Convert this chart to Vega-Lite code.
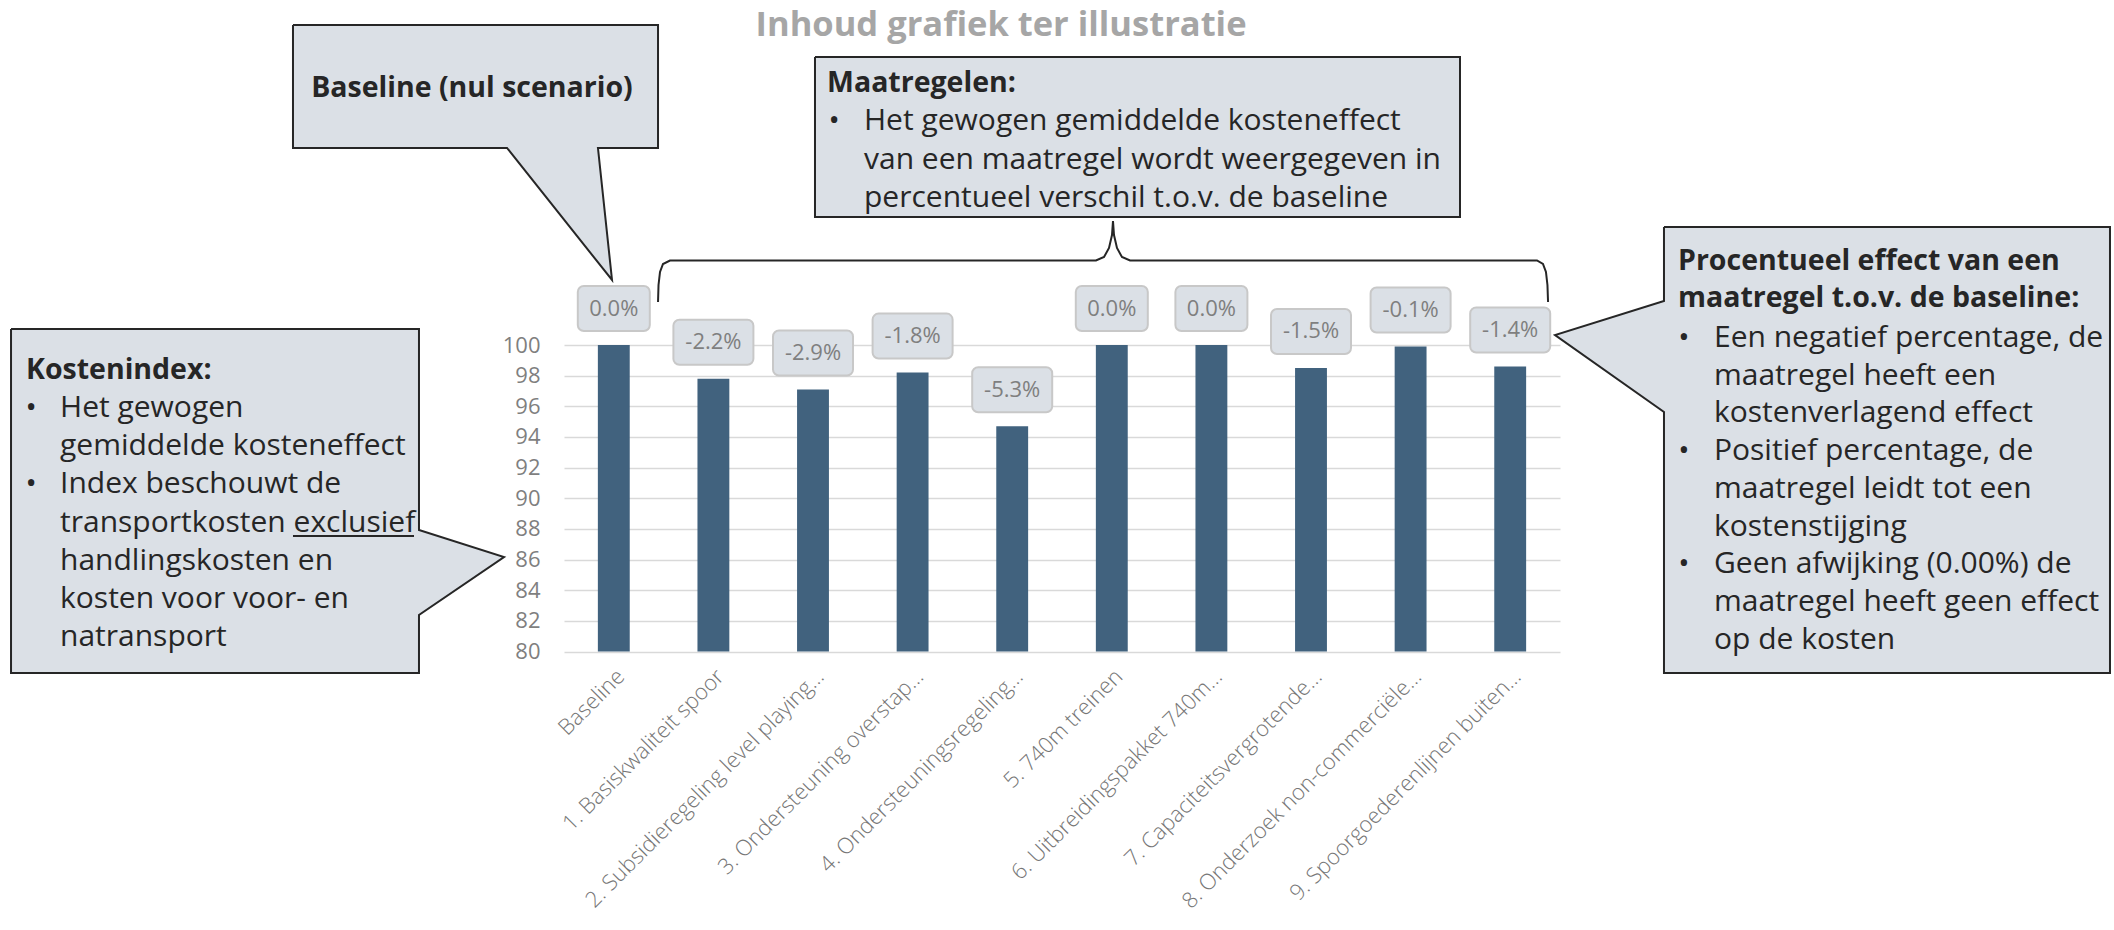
{
  "$schema": "https://vega.github.io/schema/vega-lite/v6.json",
  "width": 996,
  "height": 306.5,
  "autosize": {"type": "none"},
  "padding": {"left": 564, "top": 345, "right": 554, "bottom": 278.5},
  "background": "white",
  "config": {"view": {"stroke": null}, "font": "Open Sans"},
  "datasets": {
    "measures": [
      {"maatregel": "Baseline", "index": 100, "label": "0.0%"},
      {"maatregel": "1. Basiskwaliteit spoor", "index": 97.8, "label": "-2.2%"},
      {"maatregel": "2. Subsidieregeling level playing…", "index": 97.1, "label": "-2.9%"},
      {"maatregel": "3. Ondersteuning overstap…", "index": 98.2, "label": "-1.8%"},
      {"maatregel": "4. Ondersteuningsregeling…", "index": 94.7, "label": "-5.3%"},
      {"maatregel": "5. 740m treinen", "index": 100, "label": "0.0%"},
      {"maatregel": "6. Uitbreidingspakket 740m…", "index": 100, "label": "0.0%"},
      {"maatregel": "7. Capaciteitsvergrotende…", "index": 98.5, "label": "-1.5%"},
      {"maatregel": "8. Onderzoek non-commerciële…", "index": 99.9, "label": "-0.1%"},
      {"maatregel": "9. Spoorgoederenlijnen buiten…", "index": 98.6, "label": "-1.4%"}
    ],
    "shapes": [
      {"shape": "kosten", "i": 0, "u": -5.552, "v": 101.044},
      {"shape": "kosten", "i": 1, "u": -1.456, "v": 101.044},
      {"shape": "kosten", "i": 2, "u": -1.456, "v": 87.928},
      {"shape": "kosten", "i": 3, "u": -0.602, "v": 86.166},
      {"shape": "kosten", "i": 4, "u": -1.456, "v": 82.382},
      {"shape": "kosten", "i": 5, "u": -1.456, "v": 78.597},
      {"shape": "kosten", "i": 6, "u": -5.552, "v": 78.597},
      {"shape": "kosten", "i": 7, "u": -5.552, "v": 101.044},
      {"shape": "baseline", "i": 0, "u": -2.721, "v": 120.881},
      {"shape": "baseline", "i": 1, "u": 0.944, "v": 120.881},
      {"shape": "baseline", "i": 2, "u": 0.944, "v": 112.855},
      {"shape": "baseline", "i": 3, "u": 0.341, "v": 112.855},
      {"shape": "baseline", "i": 4, "u": 0.482, "v": 104.242},
      {"shape": "baseline", "i": 5, "u": -0.572, "v": 112.855},
      {"shape": "baseline", "i": 6, "u": -2.721, "v": 112.855},
      {"shape": "baseline", "i": 7, "u": -2.721, "v": 120.881},
      {"shape": "maatregelen", "i": 0, "u": 2.52, "v": 118.793},
      {"shape": "maatregelen", "i": 1, "u": 8.996, "v": 118.793},
      {"shape": "maatregelen", "i": 2, "u": 8.996, "v": 108.353},
      {"shape": "maatregelen", "i": 3, "u": 2.52, "v": 108.353},
      {"shape": "maatregelen", "i": 4, "u": 2.52, "v": 118.793},
      {"shape": "effect", "i": 0, "u": 11.044, "v": 107.7},
      {"shape": "effect", "i": 1, "u": 15.522, "v": 107.7},
      {"shape": "effect", "i": 2, "u": 15.522, "v": 78.597},
      {"shape": "effect", "i": 3, "u": 11.044, "v": 78.597},
      {"shape": "effect", "i": 4, "u": 11.044, "v": 95.628},
      {"shape": "effect", "i": 5, "u": 9.95, "v": 100.653},
      {"shape": "effect", "i": 6, "u": 11.044, "v": 102.871},
      {"shape": "effect", "i": 7, "u": 11.044, "v": 107.7}
    ],
    "brace": [
      {"i": 0, "u": 0.944, "v": 102.806},
      {"i": 1, "u": 0.949, "v": 103.915},
      {"i": 2, "u": 0.964, "v": 104.764},
      {"i": 3, "u": 0.994, "v": 105.285},
      {"i": 4, "u": 1.064, "v": 105.514},
      {"i": 5, "u": 5.341, "v": 105.514},
      {"i": 6, "u": 5.422, "v": 105.742},
      {"i": 7, "u": 5.472, "v": 106.33},
      {"i": 8, "u": 5.502, "v": 107.178},
      {"i": 9, "u": 5.512, "v": 108.091},
      {"i": 10, "u": 5.522, "v": 107.178},
      {"i": 11, "u": 5.552, "v": 106.33},
      {"i": 12, "u": 5.602, "v": 105.742},
      {"i": 13, "u": 5.683, "v": 105.514},
      {"i": 14, "u": 9.769, "v": 105.514},
      {"i": 15, "u": 9.829, "v": 105.285},
      {"i": 16, "u": 9.859, "v": 104.764},
      {"i": 17, "u": 9.874, "v": 103.915},
      {"i": 18, "u": 9.88, "v": 102.806}
    ]
  },
  "layer": [
    {
      "data": {"name": "measures"},
      "encoding": {
        "x": {
          "field": "maatregel", "type": "nominal", "sort": null,
          "scale": {"paddingInner": 0, "paddingOuter": 0},
          "axis": {
            "title": null, "labelAngle": -45, "labelFontSize": 22, "labelColor": "#767676", "labelFontWeight": 300,
            "labelLimit": 0, "ticks": false, "domain": false, "grid": false, "labelPadding": 14,
            "labelFont": "Open Sans"
          }
        },
        "y": {
          "field": "index", "type": "quantitative",
          "scale": {"domain": [80, 100], "nice": false, "zero": false},
          "axis": {
            "title": null, "values": [80, 82, 84, 86, 88, 90, 92, 94, 96, 98, 100],
            "labelOverlap": false,
            "grid": true, "gridColor": "#D9D9D9", "gridWidth": 1.5, "domain": false, "ticks": false,
            "labelFontSize": 22, "labelColor": "#7F7F7F", "labelPadding": 24, "labelFont": "Open Sans"
          }
        }
      },
      "layer": [
        {
          "mark": {"type": "bar", "color": "#41627E", "width": {"band": 0.32}},
          "encoding": {"y2": {"datum": 80}}
        },
        {
          "mark": {"type": "bar", "fill": "#DBE0E6", "stroke": "#C8C8C8", "strokeWidth": 2, "cornerRadius": 6, "yOffset": -14, "y2Offset": -59},
          "encoding": {
            "y2": {"field": "index"},
            "size": {"condition": {"test": "datum.label === '0.0%'", "value": 72}, "value": 80}
          }
        },
        {
          "mark": {"type": "text", "yOffset": -36.5, "baseline": "middle", "align": "center", "fontSize": 22, "color": "#7F7F7F", "font": "Open Sans"},
          "encoding": {"text": {"field": "label"}}
        }
      ]
    },
    {
      "layer": [
        {
          "data": {"name": "shapes"},
          "mark": {"type": "line", "fill": "#DBE0E6", "stroke": "#262626", "strokeWidth": 2, "strokeJoin": "miter", "interpolate": "linear"},
          "encoding": {
            "x": {"field": "u", "type": "quantitative", "scale": {"domain": [0, 10], "nice": false, "zero": false}, "axis": null},
            "y": {"field": "v", "type": "quantitative", "scale": {"domain": [80, 100], "nice": false, "zero": false}, "axis": null},
            "detail": {"field": "shape"},
            "order": {"field": "i"}
          }
        },
        {
          "data": {"name": "brace"},
          "mark": {"type": "line", "stroke": "#262626", "strokeWidth": 2, "interpolate": "linear"},
          "encoding": {
            "x": {"field": "u", "type": "quantitative", "axis": null},
            "y": {"field": "v", "type": "quantitative", "axis": null},
            "order": {"field": "i"}
          }
        },
        {
          "data": {"values": [{}]},
          "mark": {"type": "text", "text": "Inhoud grafiek ter illustratie", "align": "center", "baseline": "alphabetic", "fontSize": 34.5, "fontWeight": "bold", "color": "#A6A6A6", "font": "Open Sans"},
          "encoding": {"x": {"datum": 4.388, "type": "quantitative", "axis": null}, "y": {"datum": 120.163, "type": "quantitative", "axis": null}}
        },
        {
          "data": {"values": [{}]},
          "mark": {"type": "text", "text": "Baseline (nul scenario)", "align": "center", "baseline": "alphabetic", "fontSize": 28.5, "fontWeight": "bold", "color": "#262626", "font": "Open Sans"},
          "encoding": {"x": {"datum": -0.924, "type": "quantitative", "axis": null}, "y": {"datum": 116.183, "type": "quantitative", "axis": null}}
        },
        {
          "data": {"values": [{}]},
          "mark": {"type": "text", "text": "Kostenindex:", "align": "left", "baseline": "alphabetic", "fontSize": 28.5, "fontWeight": "bold", "color": "#262626", "font": "Open Sans"},
          "encoding": {"x": {"datum": -5.402, "type": "quantitative", "axis": null}, "y": {"datum": 97.781, "type": "quantitative", "axis": null}}
        },
        {
          "data": {"values": [{}]},
          "mark": {"type": "text", "text": "•", "align": "center", "baseline": "alphabetic", "fontSize": 30, "color": "#262626", "font": "Open Sans"},
          "encoding": {"x": {"datum": -5.351, "type": "quantitative", "axis": null}, "y": {"datum": 95.302, "type": "quantitative", "axis": null}}
        },
        {
          "data": {"values": [{}]},
          "mark": {"type": "text", "text": "•", "align": "center", "baseline": "alphabetic", "fontSize": 30, "color": "#262626", "font": "Open Sans"},
          "encoding": {"x": {"datum": -5.351, "type": "quantitative", "axis": null}, "y": {"datum": 90.317, "type": "quantitative", "axis": null}}
        },
        {
          "data": {"values": [{}]},
          "mark": {"type": "text", "text": ["Het gewogen", "gemiddelde kosteneffect", "Index beschouwt de", "transportkosten exclusief", "handlingskosten en", "kosten voor voor- en", "natransport"], "align": "left", "baseline": "alphabetic", "fontSize": 30, "lineHeight": 38.2, "color": "#262626", "font": "Open Sans"},
          "encoding": {"x": {"datum": -5.06, "type": "quantitative", "axis": null}, "y": {"datum": 95.302, "type": "quantitative", "axis": null}}
        },
        {
          "data": {"values": [{}]},
          "mark": {"type": "rule", "stroke": "#262626", "strokeWidth": 2},
          "encoding": {
            "x": {"datum": -2.721, "type": "quantitative", "axis": null},
            "x2": {"datum": -1.506},
            "y": {"datum": 87.537, "type": "quantitative", "axis": null}
          }
        },
        {
          "data": {"values": [{}]},
          "mark": {"type": "text", "text": "Maatregelen:", "align": "left", "baseline": "alphabetic", "fontSize": 28.5, "fontWeight": "bold", "color": "#262626", "font": "Open Sans"},
          "encoding": {"x": {"datum": 2.641, "type": "quantitative", "axis": null}, "y": {"datum": 116.509, "type": "quantitative", "axis": null}}
        },
        {
          "data": {"values": [{}]},
          "mark": {"type": "text", "text": "•", "align": "center", "baseline": "alphabetic", "fontSize": 30, "color": "#262626", "font": "Open Sans"},
          "encoding": {"x": {"datum": 2.711, "type": "quantitative", "axis": null}, "y": {"datum": 114.029, "type": "quantitative", "axis": null}}
        },
        {
          "data": {"values": [{}]},
          "mark": {"type": "text", "text": ["Het gewogen gemiddelde kosteneffect", "van een maatregel wordt weergegeven in", "percentueel verschil t.o.v. de baseline"], "align": "left", "baseline": "alphabetic", "fontSize": 30, "lineHeight": 38.5, "color": "#262626", "font": "Open Sans"},
          "encoding": {"x": {"datum": 3.012, "type": "quantitative", "axis": null}, "y": {"datum": 114.029, "type": "quantitative", "axis": null}}
        },
        {
          "data": {"values": [{}]},
          "mark": {"type": "text", "text": ["Procentueel effect van een", "maatregel t.o.v. de baseline:"], "align": "left", "baseline": "alphabetic", "fontSize": 28.5, "fontWeight": "bold", "lineHeight": 37, "color": "#262626", "font": "Open Sans"},
          "encoding": {"x": {"datum": 11.185, "type": "quantitative", "axis": null}, "y": {"datum": 104.894, "type": "quantitative", "axis": null}}
        },
        {
          "data": {"values": [{}]},
          "mark": {"type": "text", "text": "•", "align": "center", "baseline": "alphabetic", "fontSize": 30, "color": "#262626", "font": "Open Sans"},
          "encoding": {"x": {"datum": 11.245, "type": "quantitative", "axis": null}, "y": {"datum": 99.869, "type": "quantitative", "axis": null}}
        },
        {
          "data": {"values": [{}]},
          "mark": {"type": "text", "text": "•", "align": "center", "baseline": "alphabetic", "fontSize": 30, "color": "#262626", "font": "Open Sans"},
          "encoding": {"x": {"datum": 11.245, "type": "quantitative", "axis": null}, "y": {"datum": 92.489, "type": "quantitative", "axis": null}}
        },
        {
          "data": {"values": [{}]},
          "mark": {"type": "text", "text": "•", "align": "center", "baseline": "alphabetic", "fontSize": 30, "color": "#262626", "font": "Open Sans"},
          "encoding": {"x": {"datum": 11.245, "type": "quantitative", "axis": null}, "y": {"datum": 85.109, "type": "quantitative", "axis": null}}
        },
        {
          "data": {"values": [{}]},
          "mark": {"type": "text", "text": ["Een negatief percentage, de", "maatregel heeft een", "kostenverlagend effect", "Positief percentage, de", "maatregel leidt tot een", "kostenstijging", "Geen afwijking (0.00%) de", "maatregel heeft geen effect", "op de kosten"], "align": "left", "baseline": "alphabetic", "fontSize": 30, "lineHeight": 37.7, "color": "#262626", "font": "Open Sans"},
          "encoding": {"x": {"datum": 11.546, "type": "quantitative", "axis": null}, "y": {"datum": 99.869, "type": "quantitative", "axis": null}}
        }
      ]
    }
  ],
  "resolve": {"scale": {"x": "independent", "y": "independent"}}
}
